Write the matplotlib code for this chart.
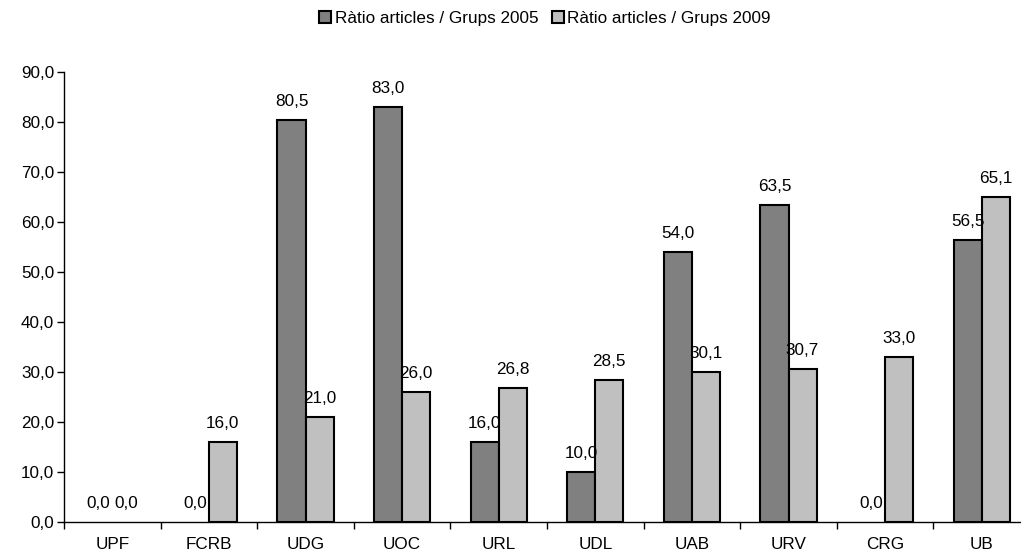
import matplotlib
matplotlib.use("Agg")
import matplotlib.pyplot as plt
import numpy as np

plt.rcParams['font.family'] = ['Liberation Sans', 'DejaVu Sans']

categories = ['UPF', 'FCRB', 'UDG', 'UOC', 'URL', 'UDL', 'UAB', 'URV', 'CRG', 'UB']
ratio_2005 = [0.0, 0.0, 80.5, 83.0, 16.0, 10.0, 54.0, 63.5, 0.0, 56.5]
ratio_2009 = [0.0, 16.0, 21.0, 26.0, 26.8, 28.5, 30.1, 30.7, 33.0, 65.1]
series_names = ['Ràtio articles / Grups 2005', 'Ràtio articles / Grups 2009']

FS = 12.3

def fmt(v):
    return f"{v:.1f}".replace('.', ',')

fig = plt.figure(figsize=(10.21, 5.58), dpi=100)
ax = fig.add_axes([64 / 1021, 36 / 558, 966 / 1021, 450 / 558])

x = np.arange(len(categories))
w = 0.29
b1 = ax.bar(x - w / 2, ratio_2005, w, color='#808080', edgecolor='black',
            linewidth=1.5, label=series_names[0])
b2 = ax.bar(x + w / 2, ratio_2009, w, color='#C0C0C0', edgecolor='black',
            linewidth=1.5, label=series_names[1])

for bars, vals in ((b1, ratio_2005), (b2, ratio_2009)):
    for bar, v in zip(bars, vals):
        if v == 0:
            bar.set_linewidth(0)
        ax.annotate(fmt(v), (bar.get_x() + bar.get_width() / 2, v),
                    xytext=(0, 10), textcoords='offset points',
                    ha='center', va='baseline', fontsize=FS)

ax.set_xlim(-0.5, len(categories) - 0.5)
ax.set_ylim(0, 90)
ax.set_yticks(np.arange(0, 91, 10))
ax.set_yticklabels([fmt(v) for v in np.arange(0, 91, 10)], fontsize=FS)
ax.tick_params(axis='y', length=5, width=1, pad=2)

ax.set_xticks(x)
ax.set_xticklabels(categories, fontsize=FS)
ax.tick_params(axis='x', which='major', length=0, pad=11)
ax.set_xticks(np.arange(-0.5, len(categories), 1), minor=True)
ax.tick_params(axis='x', which='minor', length=5, width=1, direction='out')

for s in ['top', 'right']:
    ax.spines[s].set_visible(False)
ax.spines['left'].set_linewidth(1)
ax.spines['bottom'].set_linewidth(1)

leg = fig.legend(handles=[b1, b2], loc='center', bbox_to_anchor=(545 / 1021, 1 - 18 / 558),
                 ncol=2, frameon=False, fontsize=FS, handlelength=0.7, handleheight=0.7,
                 handletextpad=0.2, columnspacing=0.8)
for h in leg.legend_handles:
    h.set_linewidth(1.5)

fig.savefig('out.png', dpi=100)
